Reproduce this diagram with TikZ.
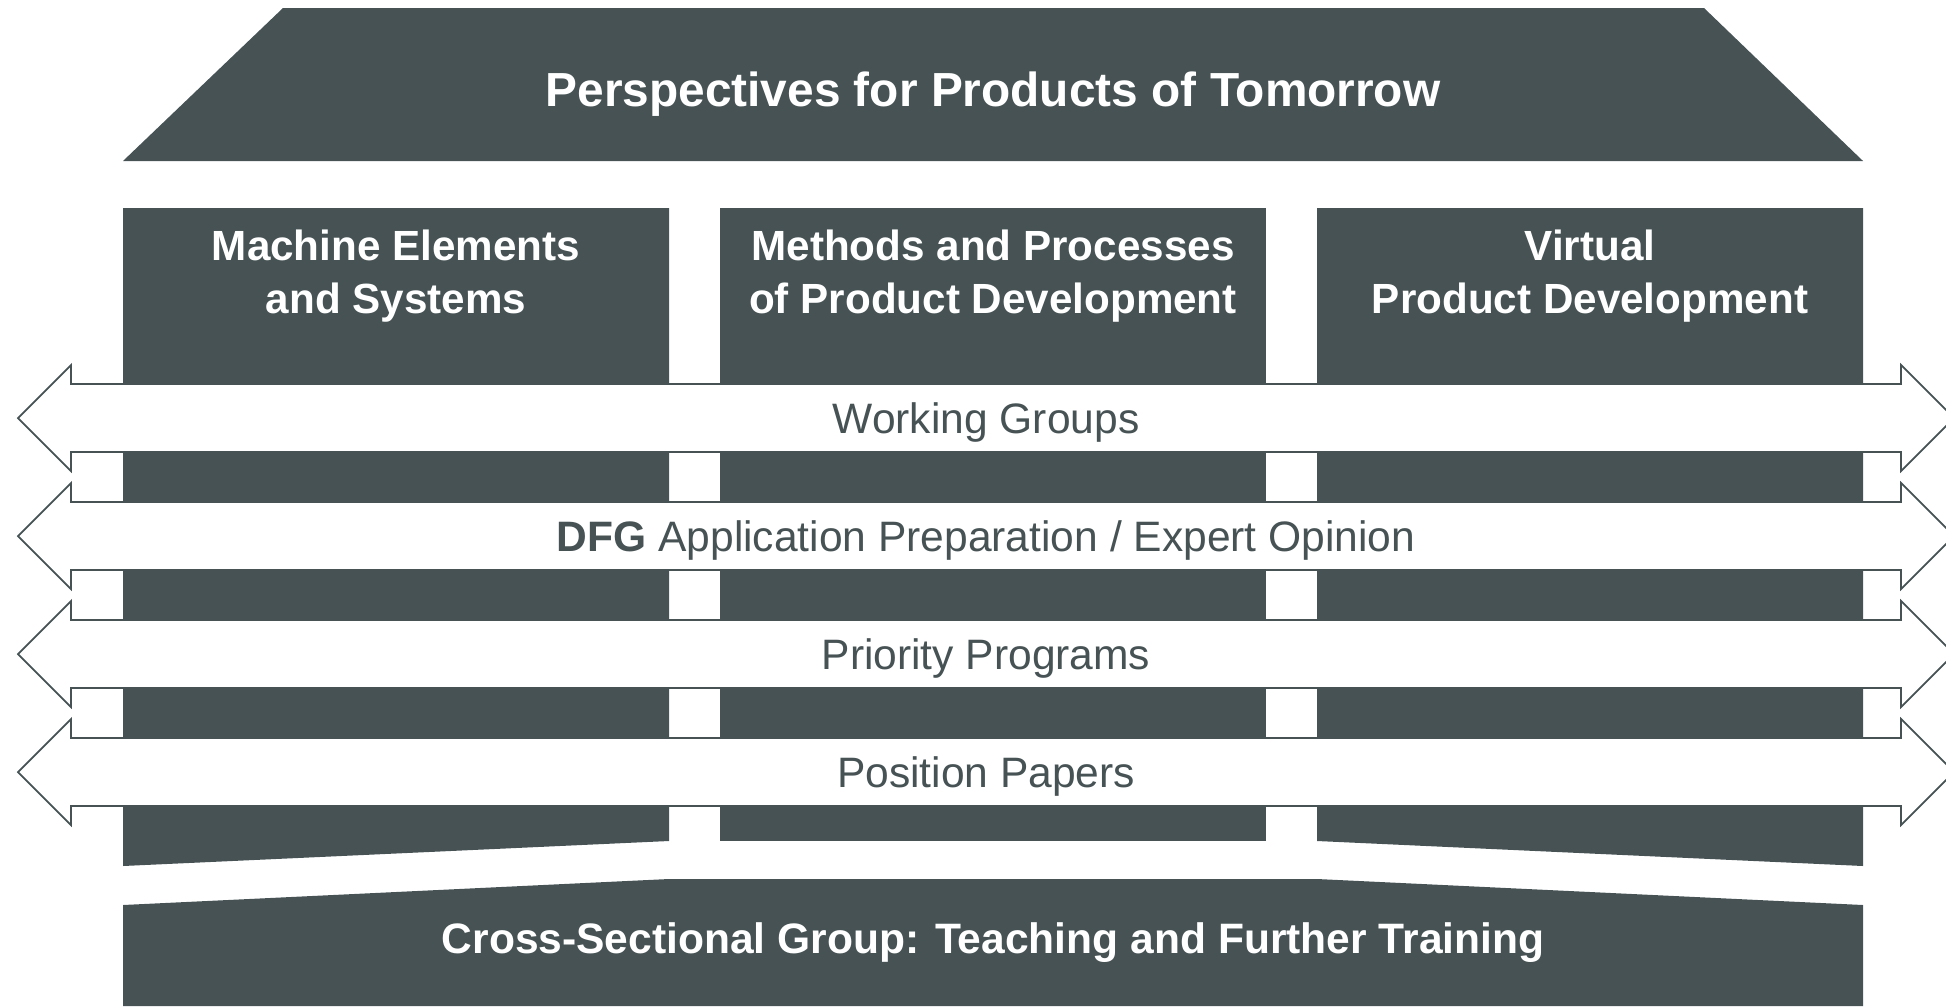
\documentclass[tikz,border=0pt]{standalone}
\usepackage{fontspec}
\setmainfont{Liberation Sans}
\usetikzlibrary{positioning}
\definecolor{slate}{RGB}{70,82,84}

\tikzset{
  title/.style={text=white, font=\fontsize{13.6}{16}\selectfont\bfseries, align=center},
  basetitle/.style={text=white, font=\fontsize{12.1}{15}\selectfont\bfseries, align=center},
  pillarhead/.style={text=white, font=\fontsize{12}{15}\selectfont\bfseries, align=center},
  band/.style={fill=white, draw=slate, line width=0.5pt},
  bandtext/.style={text=slate, font=\fontsize{12.1}{14}\selectfont},
}

\begin{document}
\begin{tikzpicture}[x=0.01cm, y=-0.01cm]
  \useasboundingbox (0,0) rectangle (1946,1006);
  \clip (0,0) rectangle (1946,1006);

  % roof
  \fill[slate] (283,8) -- (1704,8) -- (1863,161) -- (123,161) -- cycle;
  \node[title] (roof) at (993,94) {Perspectives for Products of Tomorrow};

  % pillars
  \fill[slate] (123,208) -- (669,208) -- (669,841) -- (123,866) -- cycle;
  \fill[slate] (720,208) rectangle (1266,841);
  \fill[slate] (1317,208) -- (1863,208) -- (1863,866) -- (1317,841) -- cycle;
  \node[pillarhead] (machine) at (396,276) {Machine Elements\\and Systems};
  \node[pillarhead] (methods) at (993,276) {Methods and Processes\\of Product Development};
  \node[pillarhead] (virtual) at (1590,276) {Virtual\\Product Development};

  % bands across the pillars
  \foreach \c/\name/\txt in {418/working/{Working Groups},
                              536/dfg/{\textbf{DFG} Application Preparation / Expert Opinion},
                              654/priority/{Priority Programs},
                              772/position/{Position Papers}} {
    \draw[band] (18,\c) -- (71,\c-53) -- (71,\c-34) -- (1901,\c-34) -- (1901,\c-53)
      -- (1954,\c) -- (1901,\c+53) -- (1901,\c+34) -- (71,\c+34) -- (71,\c+53) -- cycle;
    \node[bandtext] (\name) at (986,\c+4) {\txt};
  }

  % base
  \fill[slate] (123,905) -- (669,879) -- (1317,879) -- (1863,905) -- (1863,1006) -- (123,1006) -- cycle;
  \node[basetitle] (teaching) at (993,943) {Cross-Sectional Group: Teaching and Further Training};

\end{tikzpicture}
\end{document}
